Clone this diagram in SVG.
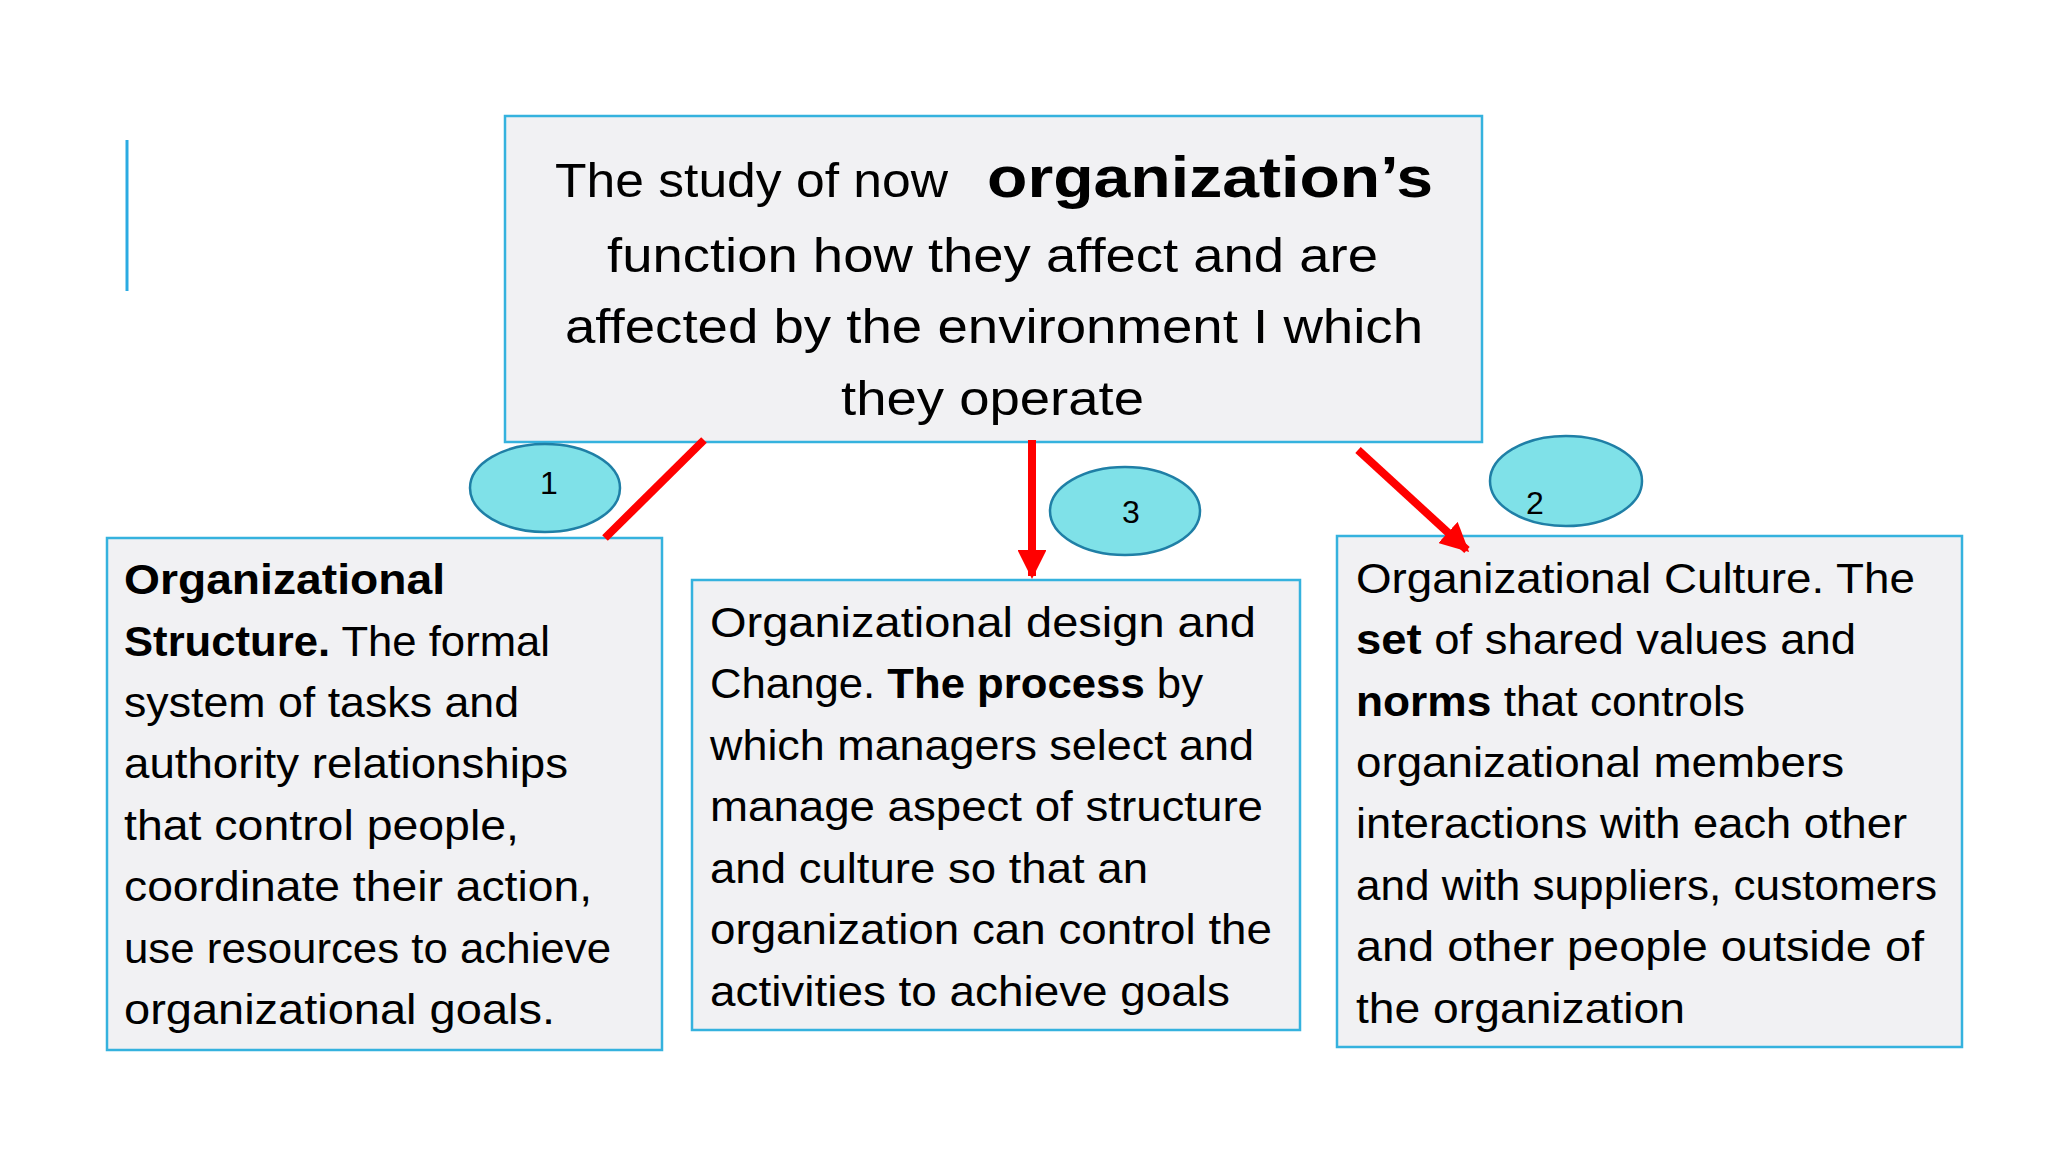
<svg xmlns="http://www.w3.org/2000/svg" width="2048" height="1152" viewBox="0 0 2048 1152">
<defs>
<style>
.box{fill:#f1f1f3;stroke:#35b2de;stroke-width:2.5}
.oval{fill:#7fe1e8;stroke:#1f7fa6;stroke-width:2.5}
.t{font-family:"Liberation Sans",Arial,sans-serif;fill:#000}
.top{font-size:48px}
.body{font-size:42px}
.num{font-family:"Liberation Sans",Arial,sans-serif;font-size:32px;fill:#000;text-anchor:middle}
.red{stroke:#ff0000;stroke-width:8;fill:none}
</style>
<marker id="ah" viewBox="0 0 10 10" refX="9" refY="5" markerWidth="3.6" markerHeight="3.6" markerUnits="strokeWidth" orient="auto">
<path d="M0,0 L10,5 L0,10 z" fill="#ff0000"/>
</marker>
</defs>
<rect width="2048" height="1152" fill="#ffffff"/>
<line x1="127" y1="140" x2="127" y2="291" stroke="#2aabe2" stroke-width="3"/>

<g id="top-node">
<rect class="box" x="505" y="116" width="977" height="326"/>
<text class="t top" x="555" y="197" textLength="393" lengthAdjust="spacingAndGlyphs">The study of now</text>
<text class="t" x="987" y="197" font-size="58" font-weight="bold" textLength="446" lengthAdjust="spacingAndGlyphs">organization’s</text>
<text class="t top" x="607" y="272" textLength="771" lengthAdjust="spacingAndGlyphs">function how they affect and are</text>
<text class="t top" x="565" y="343" textLength="858" lengthAdjust="spacingAndGlyphs">affected by the environment I  which</text>
<text class="t top" x="841" y="415" textLength="303" lengthAdjust="spacingAndGlyphs">they operate</text>
</g>

<g id="oval-1">
<ellipse class="oval" cx="545" cy="488" rx="75" ry="44"/>
<text class="num" x="549" y="494">1</text>
</g>
<g id="oval-3">
<ellipse class="oval" cx="1125" cy="511" rx="75" ry="44"/>
<text class="num" x="1131" y="523">3</text>
</g>
<g id="oval-2">
<ellipse class="oval" cx="1566" cy="481" rx="76" ry="45"/>
<text class="num" x="1535" y="514">2</text>
</g>

<g id="left-node">
<rect class="box" x="107" y="538" width="555" height="512"/>
<text class="t body" x="124" y="594" font-weight="bold" textLength="321" lengthAdjust="spacingAndGlyphs">Organizational</text>
<text class="t body" x="124" y="656" textLength="426" lengthAdjust="spacingAndGlyphs"><tspan font-weight="bold">Structure.</tspan> The formal</text>
<text class="t body" x="124" y="717" textLength="395" lengthAdjust="spacingAndGlyphs">system of tasks and</text>
<text class="t body" x="124" y="778" textLength="444" lengthAdjust="spacingAndGlyphs">authority relationships</text>
<text class="t body" x="124" y="840" textLength="395" lengthAdjust="spacingAndGlyphs">that control people,</text>
<text class="t body" x="124" y="901" textLength="468" lengthAdjust="spacingAndGlyphs">coordinate their action,</text>
<text class="t body" x="124" y="963" textLength="487" lengthAdjust="spacingAndGlyphs">use resources to achieve</text>
<text class="t body" x="124" y="1024" textLength="431" lengthAdjust="spacingAndGlyphs">organizational goals.</text>
</g>

<g id="middle-node">
<rect class="box" x="692" y="580" width="608" height="450"/>
<text class="t body" x="710" y="637" textLength="546" lengthAdjust="spacingAndGlyphs">Organizational design and</text>
<text class="t body" x="710" y="698" textLength="493" lengthAdjust="spacingAndGlyphs">Change. <tspan font-weight="bold">The process</tspan> by</text>
<text class="t body" x="710" y="760" textLength="544" lengthAdjust="spacingAndGlyphs">which managers select and</text>
<text class="t body" x="710" y="821" textLength="553" lengthAdjust="spacingAndGlyphs">manage aspect of structure</text>
<text class="t body" x="710" y="883" textLength="438" lengthAdjust="spacingAndGlyphs">and culture so that an</text>
<text class="t body" x="710" y="944" textLength="562" lengthAdjust="spacingAndGlyphs">organization can control the</text>
<text class="t body" x="710" y="1006" textLength="520" lengthAdjust="spacingAndGlyphs">activities to achieve goals</text>
</g>

<g id="right-node">
<rect class="box" x="1337" y="536" width="625" height="511"/>
<text class="t body" x="1356" y="593" textLength="559" lengthAdjust="spacingAndGlyphs">Organizational Culture. The</text>
<text class="t body" x="1356" y="654" textLength="500" lengthAdjust="spacingAndGlyphs"><tspan font-weight="bold">set</tspan> of shared values and</text>
<text class="t body" x="1356" y="716" textLength="389" lengthAdjust="spacingAndGlyphs"><tspan font-weight="bold">norms</tspan> that controls</text>
<text class="t body" x="1356" y="777" textLength="488" lengthAdjust="spacingAndGlyphs">organizational members</text>
<text class="t body" x="1356" y="838" textLength="551" lengthAdjust="spacingAndGlyphs">interactions with each other</text>
<text class="t body" x="1356" y="900" textLength="581" lengthAdjust="spacingAndGlyphs">and with suppliers, customers</text>
<text class="t body" x="1356" y="961" textLength="568" lengthAdjust="spacingAndGlyphs">and other people outside of</text>
<text class="t body" x="1356" y="1023" textLength="329" lengthAdjust="spacingAndGlyphs">the organization</text>
</g>

<g id="connectors">
<line class="red" x1="704" y1="440" x2="605" y2="538"/>
<line class="red" x1="1032" y1="440" x2="1032" y2="576" marker-end="url(#ah)"/>
<line class="red" x1="1358" y1="450" x2="1467" y2="550" marker-end="url(#ah)"/>
</g>
</svg>
